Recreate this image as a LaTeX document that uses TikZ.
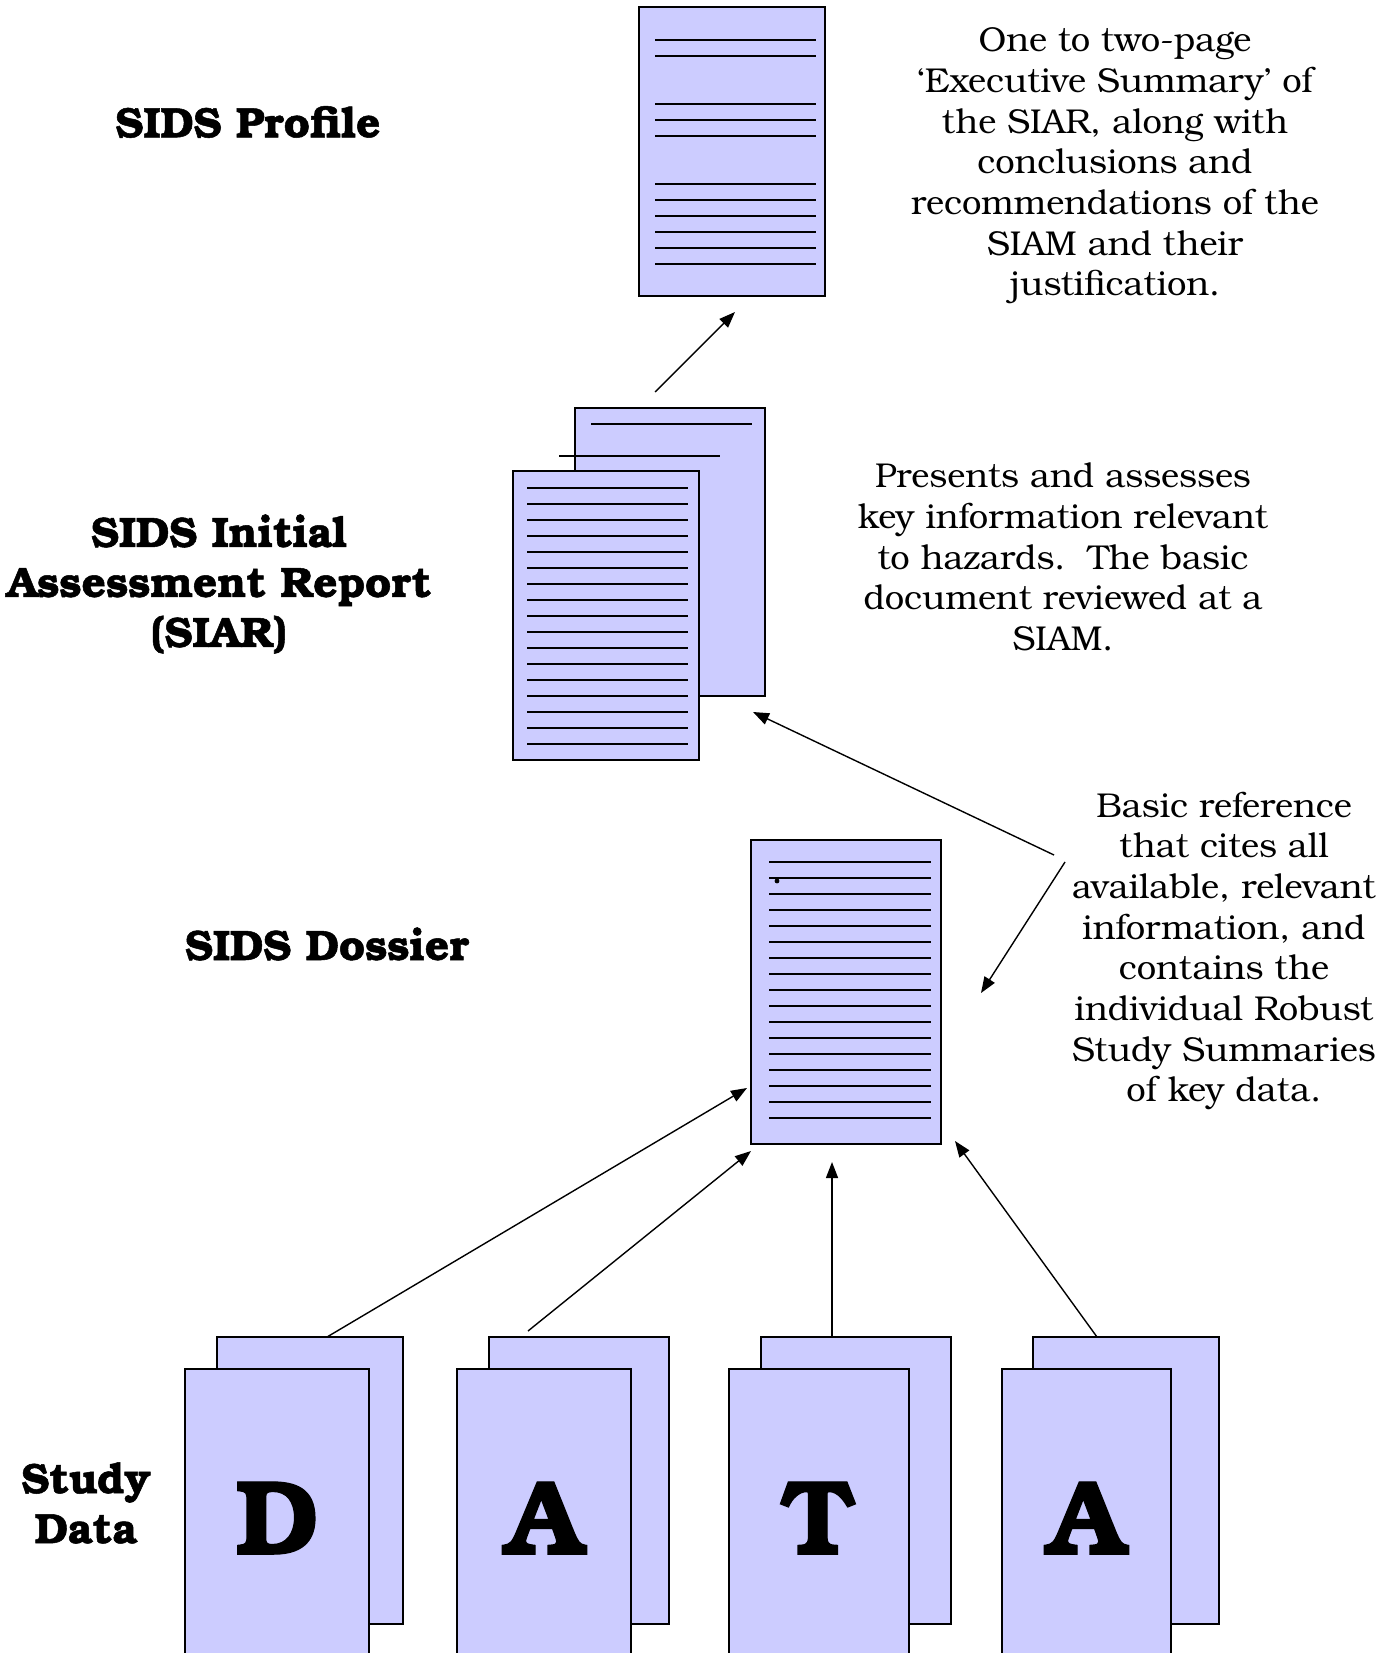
\documentclass[tikz,border=0pt]{standalone}
\usepackage{fontspec}
\setmainfont{texgyrebonum}[Extension=.otf, UprightFont=*-regular, BoldFont=*-bold, ItalicFont=*-italic, BoldItalicFont=*-bolditalic, BoldFeatures={FakeBold=1.2}]
\usetikzlibrary{arrows.meta,calc}
\definecolor{pagefill}{RGB}{204,204,255}
\begin{document}
\begin{tikzpicture}[x=1pt,y=-1pt,
  page/.style={draw=black, line width=1.5pt, fill=pagefill, anchor=north west,
    inner sep=0pt, outer sep=0pt},
  rule/.style={line width=1.6pt},
  conn/.style={line width=1.4pt, -{Triangle[length=16pt,width=12pt]}},
  note/.style={align=center, font=\fontsize{34.5}{40.7}\selectfont},
  title/.style={align=center, font=\fontsize{42.5}{50}\selectfont\bfseries},
  letter/.style={font=\fontsize{106}{106}\selectfont\bfseries}]
\useasboundingbox (0,0) rectangle (1396,1653);
\clip (0,0) rectangle (1396,1653);

% ---------- SIDS Profile ----------
\node[page, minimum width=186pt, minimum height=289pt] (profile) at (639,7) {};
\foreach \dy in {33,49,97,113,129,177,193,209,225,241,257}
  \draw[rule] ($(profile.north west)+(16,\dy)$) -- +(161,0);

% ---------- SIAR (two sheets) ----------
\node[page, minimum width=190pt, minimum height=288pt] (siarback) at (575,408) {};
\draw[rule] ($(siarback.north west)+(16,16)$) -- +(161,0);
\draw[rule] ($(siarback.north west)+(-16,48)$) -- +(161,0);
\node[page, minimum width=186pt, minimum height=289pt] (siarfront) at (513,471) {};
\foreach \k in {0,...,16}
  \draw[rule] ($(siarfront.north west)+(14,17+16*\k)$) -- +(161,0);

% ---------- SIDS Dossier ----------
\node[page, minimum width=190pt, minimum height=304pt] (dossier) at (751,840) {};
\foreach \k in {0,...,16}
  \draw[rule] ($(dossier.north west)+(18,22+16*\k)$) -- +(162,0);
\fill ($(dossier.north west)+(26,41)$) circle (2.4pt);

% ---------- Study data sheets ----------
\node[page, minimum width=186pt, minimum height=287pt] (dback) at (217,1337) {};
\node[page, minimum width=184pt, minimum height=320pt] (dfront) at (185,1369) {};
\node[page, minimum width=180pt, minimum height=287pt] (aback) at (489,1337) {};
\node[page, minimum width=174pt, minimum height=320pt] (afront) at (457,1369) {};
\node[page, minimum width=190pt, minimum height=287pt] (tback) at (761,1337) {};
\node[page, minimum width=180pt, minimum height=320pt] (tfront) at (729,1369) {};
\node[page, minimum width=186pt, minimum height=287pt] (atwoback) at (1033,1337) {};
\node[page, minimum width=169pt, minimum height=320pt] (atwofront) at (1002,1369) {};

\node[letter] (ld) at (277,1518) {D};
\node[letter] (la) at (544,1518) {A};
\node[letter] (lt) at (818,1518) {T};
\node[letter] (latwo) at (1086,1518) {A};

% ---------- Titles ----------
\node[title] (tprofile) at (248,122) {SIDS Profile};
\node[title] (tsiar) at (219,584) {SIDS Initial\\Assessment Report\\(SIAR)};
\node[title] (tdossier) at (327,944) {SIDS Dossier};
\node[title] (tstudy) at (86,1503) {Study\\Data};

% ---------- Descriptions ----------
\node[note] (nprofile) at (1115,166) {One to two-page\\‘Executive Summary’ of\\the SIAR, along with\\conclusions and\\recommendations of the\\SIAM and their\\justification.};
\node[note] (nsiar) at (1063,557) {Presents and assesses\\key information relevant\\to hazards.\ \ The basic\\document reviewed at a\\SIAM.};
\node[note] (ndossier) at (1224,951) {Basic reference\\that cites all\\available, relevant\\information, and\\contains the\\individual Robust\\Study Summaries\\of key data.};

% ---------- Connectors ----------
\coordinate (upS) at ($(siarback.north west)+(80,-16)$);
\coordinate (upE) at ($(profile.south west)+(96,16)$);
\draw[conn] (upS) -- (upE);

\coordinate (refA) at (1054,855);
\coordinate (refB) at (1065,862);
\draw[conn] (refA) -- ($(siarback.south east)+(-12,16)$);
\draw[conn] (refB) -- ($(dossier.north east)+(40,153)$);

\draw[conn] ($(dback.north west)+(110,0)$) -- ($(dossier.north west)+(-4,248)$);
\draw[conn] ($(aback.north west)+(39,-6)$) -- ($(dossier.south west)+(0,7)$);
\draw[conn] ($(tback.north west)+(71,0)$) -- ($(dossier.south west)+(81,18)$);
\draw[conn] ($(atwoback.north west)+(64,0)$) -- ($(dossier.south east)+(14,-3)$);
\end{tikzpicture}
\end{document}
